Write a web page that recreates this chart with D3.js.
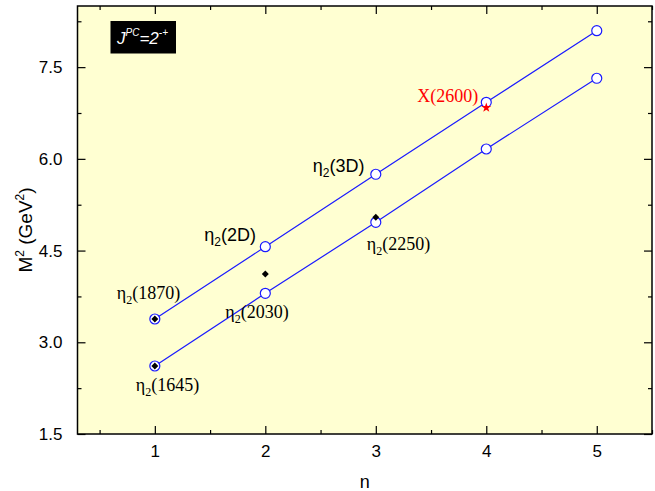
<!DOCTYPE html>
<html><head><meta charset="utf-8">
<script src="https://cdn.jsdelivr.net/npm/d3@7"></script>
<style>body{margin:0;background:#fff}svg{display:block}</style>
</head><body><svg id="c" width="655" height="491"></svg>
<script>
const nValues = [1, 2, 3, 4, 5];
const upperSeries = [3.381, 4.563, 5.748, 6.925, 8.096];
const lowerSeries = [2.612, 3.801, 4.962, 6.161, 7.318];
const expN = [1, 1, 2, 3];
const expM2 = [3.38, 2.612, 4.117, 5.044];
const starN = [4];
const starM2 = [6.837];
const xTicks = [1, 2, 3, 4, 5];
const yTicks = [1.5, 3.0, 4.5, 6.0, 7.5];
const labels = [
  {n:1, m:3.381, main:"η", sub:"2", rest:"(1870)", serif:true},
  {n:1, m:2.612, main:"η", sub:"2", rest:"(1645)", serif:true},
  {n:2, m:4.563, main:"η", sub:"2", rest:"(2D)", serif:false},
  {n:3, m:5.748, main:"η", sub:"2", rest:"(3D)", serif:false},
  {n:3, m:4.962, main:"η", sub:"2", rest:"(2250)", serif:true},
  {n:2, m:3.801, main:"η", sub:"2", rest:"(2030)", serif:true}
];

const W = 655, H = 491;
const m = {l:77.5, t:6, r:3, b:57};
const svg = d3.select("#c");
const x = d3.scaleLinear().domain([0.3, 5.5]).range([m.l, W - m.r]);
const y = d3.scaleLinear().domain([1.5, 8.5]).range([H - m.b, m.t]);
const sans = "'Liberation Sans', Arial, sans-serif";
const serif = "'Liberation Serif', 'Times New Roman', serif";

svg.append("rect").attr("x", x(0.3)).attr("y", y(8.5))
  .attr("width", x(5.5) - x(0.3)).attr("height", y(1.5) - y(8.5))
  .attr("fill", "#ffffd2");

const xMinor = d3.range(0.5, 5.51, 0.5).filter(v => !xTicks.includes(v));
const yMinor = d3.range(2.25, 8.5, 1.5);

function styleAxis(g){ g.select(".domain").remove(); g.selectAll("line").attr("stroke","#000").attr("stroke-width",1.2); }
// bottom
svg.append("g").attr("transform", `translate(0,${y(1.5)})`)
  .call(d3.axisBottom(x).tickValues(xTicks).tickSize(-8).tickFormat(d3.format("d")).tickPadding(11))
  .call(styleAxis).call(g => g.selectAll("text").attr("font-family", sans).attr("font-size", 17).attr("fill","#000"));
svg.append("g").attr("transform", `translate(0,${y(1.5)})`)
  .call(d3.axisBottom(x).tickValues(xMinor).tickSize(-4).tickFormat(""))
  .call(styleAxis);
// top
svg.append("g").attr("transform", `translate(0,${y(8.5)})`)
  .call(d3.axisTop(x).tickValues(xTicks).tickSize(-8).tickFormat("")).call(styleAxis);
svg.append("g").attr("transform", `translate(0,${y(8.5)})`)
  .call(d3.axisTop(x).tickValues(xMinor).tickSize(-4).tickFormat("")).call(styleAxis);
// left
svg.append("g").attr("transform", `translate(${x(0.3)},0)`)
  .call(d3.axisLeft(y).tickValues(yTicks).tickSize(-8).tickFormat(d3.format(".1f")).tickPadding(15))
  .call(styleAxis).call(g => g.selectAll("text").attr("font-family", sans).attr("font-size", 17).attr("fill","#000"));
svg.append("g").attr("transform", `translate(${x(0.3)},0)`)
  .call(d3.axisLeft(y).tickValues(yMinor).tickSize(-4).tickFormat("")).call(styleAxis);
// right
svg.append("g").attr("transform", `translate(${x(5.5)},0)`)
  .call(d3.axisRight(y).tickValues(yTicks).tickSize(-8).tickFormat("")).call(styleAxis);
svg.append("g").attr("transform", `translate(${x(5.5)},0)`)
  .call(d3.axisRight(y).tickValues(yMinor).tickSize(-4).tickFormat("")).call(styleAxis);

svg.append("rect").attr("x", x(0.3)).attr("y", y(8.5))
  .attr("width", x(5.5) - x(0.3)).attr("height", y(1.5) - y(8.5))
  .attr("fill", "none").attr("stroke", "#000").attr("stroke-width", 1.5);

// axis titles
svg.append("text").attr("x", (x(0.3)+x(5.5))/2).attr("y", 488).attr("text-anchor","middle")
  .attr("font-family", sans).attr("font-size", 18).text("n");
const yt = svg.append("text").attr("transform", `translate(32,${(y(1.5)+y(8.5))/2 + 10}) rotate(-90)`)
  .attr("text-anchor","middle").attr("font-family", sans).attr("font-size", 19);
yt.append("tspan").text("M");
yt.append("tspan").attr("font-size", 12).attr("dy", -8).text("2");
yt.append("tspan").attr("dy", 8).text(" (GeV");
yt.append("tspan").attr("font-size", 12).attr("dy", -8).text("2");
yt.append("tspan").attr("dy", 8).text(")");

// lines
const line = d3.line().x((d,i) => x(nValues[i])).y(d => y(d));
const blue = "#1a1aff";
[upperSeries, lowerSeries].forEach(s => {
  svg.append("path").datum(s).attr("d", line).attr("fill","none").attr("stroke", blue).attr("stroke-width", 1.2);
});
[upperSeries, lowerSeries].forEach(s => {
  svg.selectAll(null).data(s).enter().append("circle")
    .attr("cx", (d,i) => x(nValues[i])).attr("cy", d => y(d)).attr("r", 5)
    .attr("fill", "#fff").attr("stroke", blue).attr("stroke-width", 1.2);
});
// diamonds
svg.selectAll(null).data(expM2).enter().append("path")
  .attr("d", d3.symbol().type(d3.symbolSquare).size(24))
  .attr("transform", (d,i) => `translate(${x(expN[i])},${y(d)}) rotate(45)`)
  .attr("fill", "#000");
// star
svg.selectAll(null).data(starM2).enter().append("path")
  .attr("d", d3.symbol().type(d3.symbolStar).size(30))
  .attr("transform", (d,i) => `translate(${x(starN[i])},${y(d)})`)
  .attr("fill", "#ff0000");

// labels
const offsets = [[-38, -20], [-19, 25], [-61, -6], [-63, -2], [-9, 28], [-40, 25]];
labels.forEach((L, i) => {
  const t = svg.append("text").attr("x", x(L.n) + offsets[i][0]).attr("y", y(L.m) + offsets[i][1])
    .attr("font-family", L.serif ? serif : sans).attr("font-size", 18).attr("fill", "#000");
  t.append("tspan").text(L.main);
  t.append("tspan").attr("font-size", 12).attr("dy", 5).text(L.sub);
  t.append("tspan").attr("dy", -5).text(L.rest);
});
svg.append("text").attr("x", x(starN[0]) - 69).attr("y", y(starM2[0]) - 6)
  .attr("font-family", serif).attr("font-size", 18).attr("fill", "#ff0000").text("X(2600)");

// JPC box
svg.append("rect").attr("x", 110.5).attr("y", 21).attr("width", 65.5).attr("height", 32.5).attr("fill", "#000");
const jt = svg.append("text").attr("x", 117).attr("y", 44).attr("font-family", sans)
  .attr("font-style","italic").attr("font-size", 17).attr("fill","#fff");
jt.append("tspan").text("J");
jt.append("tspan").attr("font-size", 10).attr("dy", -8).text("PC");
jt.append("tspan").attr("dy", 8).text("=2");
jt.append("tspan").attr("font-size", 10).attr("dy", -8).text("-+");
</script></body></html>
